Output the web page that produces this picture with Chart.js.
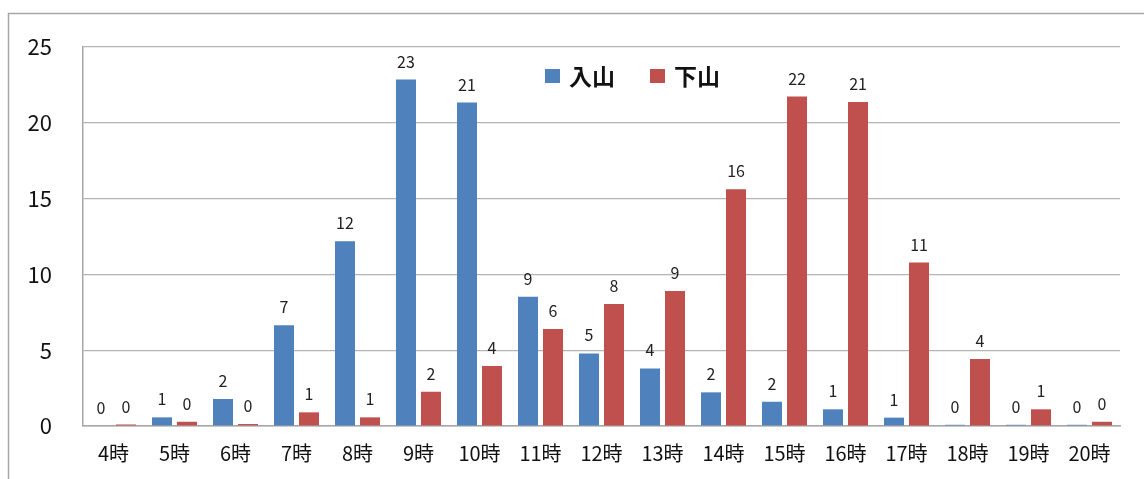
<!DOCTYPE html>
<html>
<head>
<meta charset="utf-8">
<script src="https://cdn.jsdelivr.net/npm/chart.js@4"></script>
<style>
  html, body { margin: 0; padding: 0; background: #fff; }
  #wrap { width: 1144px; height: 479px; }
</style>
</head>
<body>
<div id="wrap"><canvas id="myChart" width="1144" height="479"></canvas></div>
<script>
const hours = ['4時', '5時', '6時', '7時', '8時', '9時', '10時', '11時', '12時', '13時', '14時', '15時', '16時', '17時', '18時', '19時', '20時'];
// 入山 (going up)
const nyuzan = [0, 0.57, 1.78, 6.64, 12.18, 22.86, 21.34, 8.52, 4.79, 3.8, 2.22, 1.6, 1.1, 0.55, 0.08, 0.08, 0.08];
// 下山 (coming down)
const gezan = [0.1, 0.28, 0.13, 0.9, 0.57, 2.26, 3.96, 6.4, 8.04, 8.9, 15.62, 21.73, 21.38, 10.79, 4.42, 1.1, 0.28];
const yTicks = [0, 5, 10, 15, 20, 25];

const FONT = '"Noto Sans CJK JP", "Noto Sans", sans-serif';

// outer frame line + labels over bars + legend inside plot
const extras = {
  id: 'extras',
  beforeDraw(chart) {
    const c = chart.ctx;
    c.save();
    c.strokeStyle = '#a6a6a6';
    c.lineWidth = 1.5;
    c.beginPath();
    c.moveTo(8.5, 500);
    c.lineTo(8.5, 13.5);
    c.lineTo(1160, 13.5);
    c.stroke();
    c.restore();
  },
  afterDatasetsDraw(chart) {
    const c = chart.ctx;
    c.save();
    c.font = '16px ' + FONT;
    c.fillStyle = '#222';
    c.textAlign = 'center';
    c.textBaseline = 'middle';
    chart.data.datasets.forEach((ds, i) => {
      chart.getDatasetMeta(i).data.forEach((bar, j) => {
        c.fillText(String(Math.round(ds.data[j])), bar.x, bar.y - 18);
      });
    });
    // legend
    const items = [['入山', '#4f81bd', 545], ['下山', '#c0504d', 650]];
    c.font = 'bold 23px ' + FONT;
    c.textAlign = 'left';
    items.forEach(([txt, col, x]) => {
      c.fillStyle = col;
      c.fillRect(x, 69, 15, 14);
      c.fillStyle = '#111';
      c.fillText(txt, x + 24, 76);
    });
    c.restore();
  }
};

var ctx = document.getElementById('myChart').getContext('2d');
var myChart = new Chart(ctx, {
  type: 'bar',
  data: {
    labels: hours,
    datasets: [
      {
        label: '入山',
        data: nyuzan,
        backgroundColor: '#4f81bd',
        categoryPercentage: 0.82,
        barPercentage: 0.8
      },
      {
        label: '下山',
        data: gezan,
        backgroundColor: '#c0504d',
        categoryPercentage: 0.82,
        barPercentage: 0.8
      }
    ]
  },
  options: {
    responsive: false,
    animation: false,
    layout: { padding: { top: 47, right: 24, left: 0, bottom: 0 } },
    plugins: {
      legend: { display: false },
      tooltip: { enabled: false }
    },
    scales: {
      x: {
        grid: { display: false, drawTicks: false },
        border: { color: '#a6a6a6', width: 1.5 },
        ticks: { color: '#111', font: { size: 20, family: FONT }, padding: 15, maxRotation: 0, autoSkip: false },
        afterFit(scale) { scale.height = 53; }
      },
      y: {
        min: 0,
        max: 25,
        afterBuildTicks(scale) { scale.ticks = yTicks.map(v => ({ value: v })); },
        grid: { color: '#b4b4b4', lineWidth: 1.2, drawTicks: false },
        border: { color: '#a6a6a6', width: 1.5 },
        ticks: { color: '#111', font: { size: 22, family: FONT }, padding: 31 },
        afterFit(scale) { scale.width = 83; }
      }
    }
  },
  plugins: [extras]
});
</script>
</body>
</html>
